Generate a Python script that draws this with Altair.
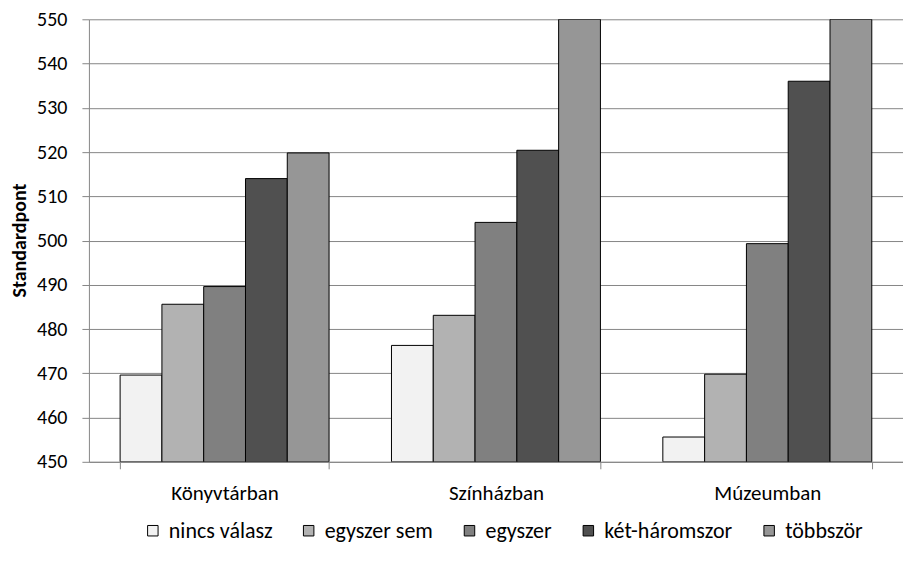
import altair as alt
import pandas as pd

categories = ["Könyvtárban", "Színházban", "Múzeumban"]
series = ["nincs válasz", "egyszer sem", "egyszer", "két-háromszor", "többször"]
konyvtar = [469.6, 485.6, 489.6, 514.0, 519.8]
szinhaz = [476.3, 483.1, 504.1, 520.4, 550.0]
muzeum = [455.6, 469.8, 499.3, 536.0, 550.0]
colors = ["#F2F2F2", "#B2B2B2", "#808080", "#505050", "#969696"]
y_ticks = list(range(450, 551, 10))

rows = []
for cat, vals in zip(categories, [konyvtar, szinhaz, muzeum]):
    for s, v in zip(series, vals):
        rows.append({"hely": cat, "gyakorisag": s, "pont": v})
df = pd.DataFrame(rows)

FONT = "Carlito, Lato, sans-serif"
GRID = "#868686"

chart = alt.Chart(df).mark_bar(stroke="black", strokeWidth=1, clip=True).encode(
    x=alt.X("hely:N", sort=categories, title=None,
            scale=alt.Scale(paddingInner=0.23, paddingOuter=0.115),
            axis=alt.Axis(labelAngle=0, labelFontSize=21, labelPadding=14,
                          tickBand="extent", tickSize=7, tickColor=GRID,
                          domainColor=GRID, labelColor="black", labelFont=FONT)),
    xOffset=alt.XOffset("gyakorisag:N", sort=series,
                        scale=alt.Scale(paddingInner=0, paddingOuter=0)),
    y=alt.Y("pont:Q", scale=alt.Scale(domain=[450, 550], nice=False, zero=False),
            axis=alt.Axis(values=y_ticks, title="Standardpont", labelFontSize=20,
                          labelFont=FONT, labelColor="black", labelPadding=15,
                          tickSize=7, tickColor=GRID, domainColor=GRID,
                          grid=True, gridColor=GRID, gridWidth=1,
                          titleFont=FONT, titleFontSize=20, titleFontWeight="bold",
                          titleColor="black", titleAngle=270, titleX=-69, titleY=221,
                          titleAlign="center", titleBaseline="middle")),
    y2=alt.datum(450),
    color=alt.Color("gyakorisag:N", sort=series,
                    scale=alt.Scale(domain=series, range=colors),
                    legend=alt.Legend(title=None, orient="none", legendX=53, legendY=501,
                                      direction="horizontal", symbolType="square",
                                      symbolSize=110, symbolStrokeColor="black",
                                      symbolStrokeWidth=1, labelFontSize=22,
                                      labelFont=FONT, labelColor="black",
                                      columnPadding=25, labelOffset=5)),
).properties(
    width=815, height=443,
    autosize=alt.AutoSizeParams(type="none"),
    padding={"left": 81, "top": 11, "right": 0, "bottom": 91},
).configure_view(strokeWidth=0)

chart.save("out.html", embed_options={"renderer": "svg", "actions": False})
